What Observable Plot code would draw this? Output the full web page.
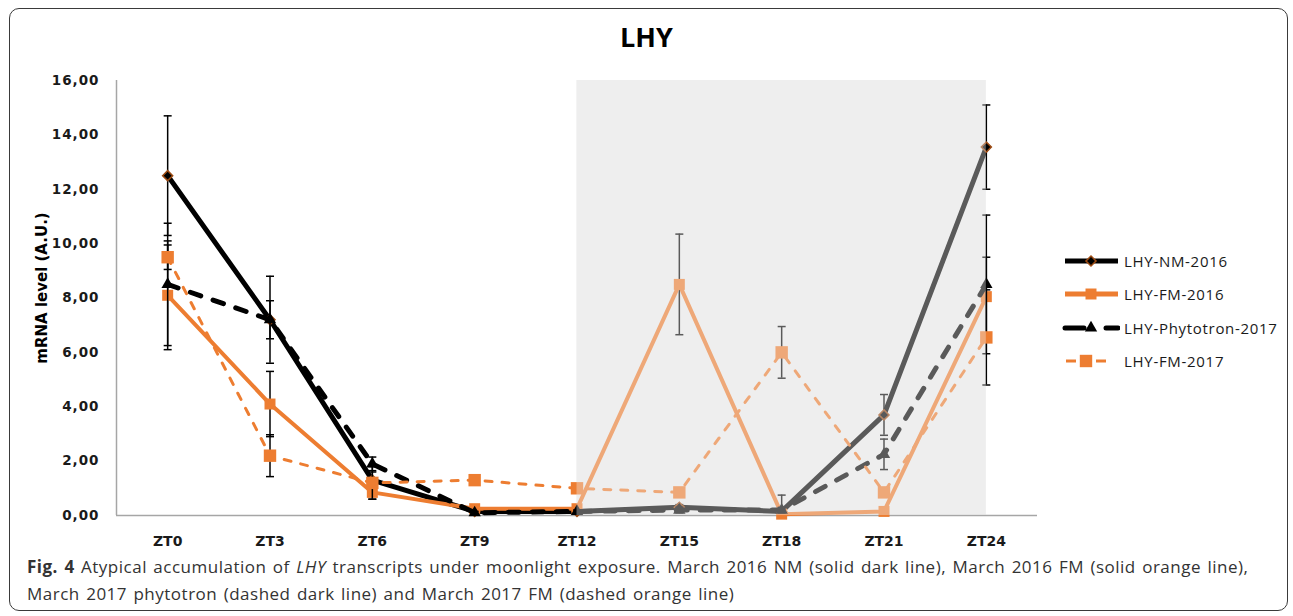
<!DOCTYPE html>
<html>
<head>
<meta charset="utf-8">
<script src="https://cdn.jsdelivr.net/npm/d3@7"></script>
<script src="https://cdn.jsdelivr.net/npm/@observablehq/plot@0.6"></script>
<style>
  html, body { margin: 0; padding: 0; background: #fff; }
  #page { position: relative; width: 1293px; height: 616px; overflow: hidden; font-family: "Open Sans", sans-serif; }
  #border { position: absolute; left: 9px; top: 8px; width: 1279px; height: 603px; border: 1.5px solid #3a3a3a; border-radius: 10px; box-sizing: border-box; }
  #title { position: absolute; left: 0; width: 1293px; top: 18px; text-align: center; font-weight: bold; font-size: 27px; color: #000; }
  #chart { position: absolute; left: 0; top: 60px; }
  #legend { position: absolute; left: 1062px; top: 244px; }
  .lrow { display: flex; align-items: center; height: 33.5px; font-size: 15px; letter-spacing: 0.7px; color: #1a1a1a; }
  .lrow svg { margin-right: 4px; }
  #caption { position: absolute; left: 27px; top: 553px; font-size: 17px; line-height: 27px; color: #333; letter-spacing: 0.5px; word-spacing: 1.5px; }
  #caption div { white-space: nowrap; }
</style>
</head>
<body>
<div id="page">
  <div id="border"></div>
  <div id="title">LHY</div>
  <div id="chart"></div>
  <div id="legend"></div>
  <div id="caption">
    <div><b>Fig. 4</b><span> Atypical accumulation of </span><i>LHY</i><span> transcripts under moonlight exposure. March 2016 NM (solid dark line), March 2016 FM (solid orange line),</span></div>
    <div><span>March 2017 phytotron (dashed dark line) and March 2017 FM (dashed orange line)</span></div>
  </div>
</div>
<script>
// ---- data ----
const hours = [0, 3, 6, 9, 12, 15, 18, 21, 24];
const tickLabels = ["ZT0", "ZT3", "ZT6", "ZT9", "ZT12", "ZT15", "ZT18", "ZT21", "ZT24"];
const yTicks = [0, 2, 4, 6, 8, 10, 12, 14, 16];
const yLabel = "mRNA level (A.U.)";

const nm2016      = [12.5, 7.2, 1.3, 0.15, 0.15, 0.3, 0.15, 3.7, 13.55];
const nm2016Err   = [2.2, 1.6, 0.3, 0.05, 0.05, 0.1, 0.6, 0.75, 1.55];
const fm2016      = [8.1, 4.1, 0.85, 0.25, 0.25, 8.5, 0.05, 0.15, 8.05];
const fm2016Err   = [2.0, 1.2, 0.25, 0.05, 0.05, 1.85, 0.05, 0.05, 1.45];
const phyto2017   = [8.5, 7.2, 1.9, 0.1, 0.15, 0.2, 0.2, 2.25, 8.5];
const phyto2017Err= [2.25, 0.7, 0.25, 0.05, 0.05, 0.1, 0.1, 0.56, 2.55];
const fm2017      = [9.5, 2.2, 1.2, 1.3, 1.0, 0.85, 6.0, 0.85, 6.55];
const fm2017Err   = [0.45, 0.77, 0.6, 0.1, 0.1, 0.15, 0.95, 0.1, 1.75];

const seriesNames = ["LHY-NM-2016", "LHY-FM-2016", "LHY-Phytotron-2017", "LHY-FM-2017"];
const nightStart = 12, nightEnd = 24;

// ---- styles ----
const BLACK = "#000000", ORANGE = "#ed7d31";
const xDomain = [-1.5, 25.5], yDomain = [0, 16];
const AXIS_FONT = "'DejaVu Sans', sans-serif";

const rows = (vals, errs) => hours.map((h, i) => ({
  h, v: vals[i], rawLo: vals[i] - errs[i], lo: Math.max(yDomain[0], vals[i] - errs[i]), hi: vals[i] + errs[i]
}));
const series = [
  {name: seriesNames[0], data: rows(nm2016, nm2016Err), stroke: BLACK, width: 5, dash: null, symbol: "square", rotate: 45, r: 4, fill: BLACK, mstroke: "#9c4a12"},
  {name: seriesNames[1], data: rows(fm2016, fm2016Err), stroke: ORANGE, width: 4, dash: null, symbol: "square", rotate: 0, r: 6.2, fill: ORANGE, mstroke: "none"},
  {name: seriesNames[2], data: rows(phyto2017, phyto2017Err), stroke: BLACK, width: 5, dash: "11,13", symbol: "triangle", rotate: 0, r: 4.6, fill: BLACK, mstroke: "none"},
  {name: seriesNames[3], data: rows(fm2017, fm2017Err), stroke: ORANGE, width: 3, dash: "7,10", symbol: "square", rotate: 0, r: 7, fill: ORANGE, mstroke: "none"}
];

const capSymbol = {draw(ctx, size) { const w = Math.sqrt(size / Math.PI); ctx.moveTo(-w, 0); ctx.lineTo(w, 0); }};
const night = [{x1: nightStart, x2: nightEnd, y1: yDomain[0], y2: yDomain[1]}];

const marks = [
  Plot.rect(night, {x1: "x1", x2: "x2", y1: "y1", y2: "y2", fill: "#eeeeee"}),
  Plot.ruleY([yDomain[0]], {stroke: "#a6a6a6", strokeWidth: 1.5}),
  Plot.ruleX([xDomain[0]], {stroke: "#a6a6a6", strokeWidth: 1.5, y1: yDomain[0], y2: yDomain[1]}),
  Plot.axisY({ticks: yTicks, tickSize: 0, tickPadding: 17, fontSize: 13.5, fontWeight: "bold", fontFamily: AXIS_FONT,
    tickFormat: d => d.toFixed(2).replace(".", ","), label: null}),
  Plot.axisX({ticks: hours, tickSize: 0, tickPadding: 21, fontSize: 14, fontWeight: "bold", fontFamily: AXIS_FONT,
    tickFormat: d => tickLabels[hours.indexOf(d)], label: null}),
  Plot.text([yLabel], {text: d => d, frameAnchor: "left", textAnchor: "middle", rotate: -90, dx: -74, dy: -10, fontSize: 15, fontWeight: "bold", fontFamily: AXIS_FONT, fill: "#000"})
];
for (const s of series) {
  marks.push(Plot.ruleX(s.data, {x: "h", y1: "lo", y2: "hi", stroke: BLACK, strokeWidth: 1.5}));
  marks.push(Plot.dot(s.data.filter(d => d.rawLo >= yDomain[0]), {x: "h", y: "lo", symbol: capSymbol, r: 4, stroke: BLACK, strokeWidth: 1.5, fill: "none"}));
  marks.push(Plot.dot(s.data, {x: "h", y: "hi", symbol: capSymbol, r: 4, stroke: BLACK, strokeWidth: 1.5, fill: "none"}));
  marks.push(Plot.line(s.data, {x: "h", y: "v", stroke: s.stroke, strokeWidth: s.width, strokeDasharray: s.dash, strokeLinecap: s.dash ? "round" : "butt", strokeLinejoin: "round"}));
  marks.push(Plot.dot(s.data, {x: "h", y: "v", symbol: s.symbol, rotate: s.rotate, r: s.r, fill: s.fill, stroke: s.mstroke, strokeWidth: 1.5}));
}
marks.push(Plot.rect(night, {x1: "x1", x2: "x2", y1: "y1", y2: "y2", fill: "#eeeeee", fillOpacity: 0.375}));

const chart = Plot.plot({
  width: 1293, height: 500,
  marginLeft: 116, marginRight: 256, marginTop: 20, marginBottom: 45,
  x: {domain: xDomain}, y: {domain: yDomain},
  style: {fontFamily: AXIS_FONT, color: "#1a1a1a", background: "transparent"},
  marks
});
chart.querySelectorAll('[aria-label="y-axis tick label"] text').forEach(t => t.setAttribute("letter-spacing", "1px"));
document.getElementById("chart").appendChild(chart);

// ---- legend ----
const legend = document.getElementById("legend");
const ns = "http://www.w3.org/2000/svg";
function el(tag, attrs, parent) { const e = document.createElementNS(ns, tag); for (const k in attrs) e.setAttribute(k, attrs[k]); parent.appendChild(e); return e; }
series.forEach((s, i) => {
  const row = document.createElement("div"); row.className = "lrow";
  const svg = el("svg", {width: 58, height: 20}, row);
  if (i === 0 || i === 1) {
    el("line", {x1: 3, x2: 56, y1: 10, y2: 10, stroke: s.stroke, "stroke-width": 5}, svg);
  } else if (i === 2) {
    el("line", {x1: 3, x2: 22, y1: 10, y2: 10, stroke: s.stroke, "stroke-width": 5, "stroke-linecap": "round"}, svg);
    el("line", {x1: 44, x2: 56, y1: 10, y2: 10, stroke: s.stroke, "stroke-width": 5, "stroke-linecap": "round"}, svg);
  } else {
    el("line", {x1: 4, x2: 14, y1: 10, y2: 10, stroke: s.stroke, "stroke-width": 3}, svg);
    el("line", {x1: 34, x2: 44, y1: 10, y2: 10, stroke: s.stroke, "stroke-width": 3}, svg);
  }
  const sym = d3.symbol().type(s.symbol === "triangle" ? d3.symbolTriangle : d3.symbolSquare).size(Math.PI * s.r * s.r)();
  const cx = i === 3 ? 24 : 29;
  el("path", {d: sym, transform: `translate(${cx},10) rotate(${s.rotate})`, fill: s.fill, stroke: s.mstroke, "stroke-width": 1.5}, svg);
  const t = document.createElement("span"); t.textContent = s.name; row.appendChild(t);
  legend.appendChild(row);
});
</script>
</body>
</html>
